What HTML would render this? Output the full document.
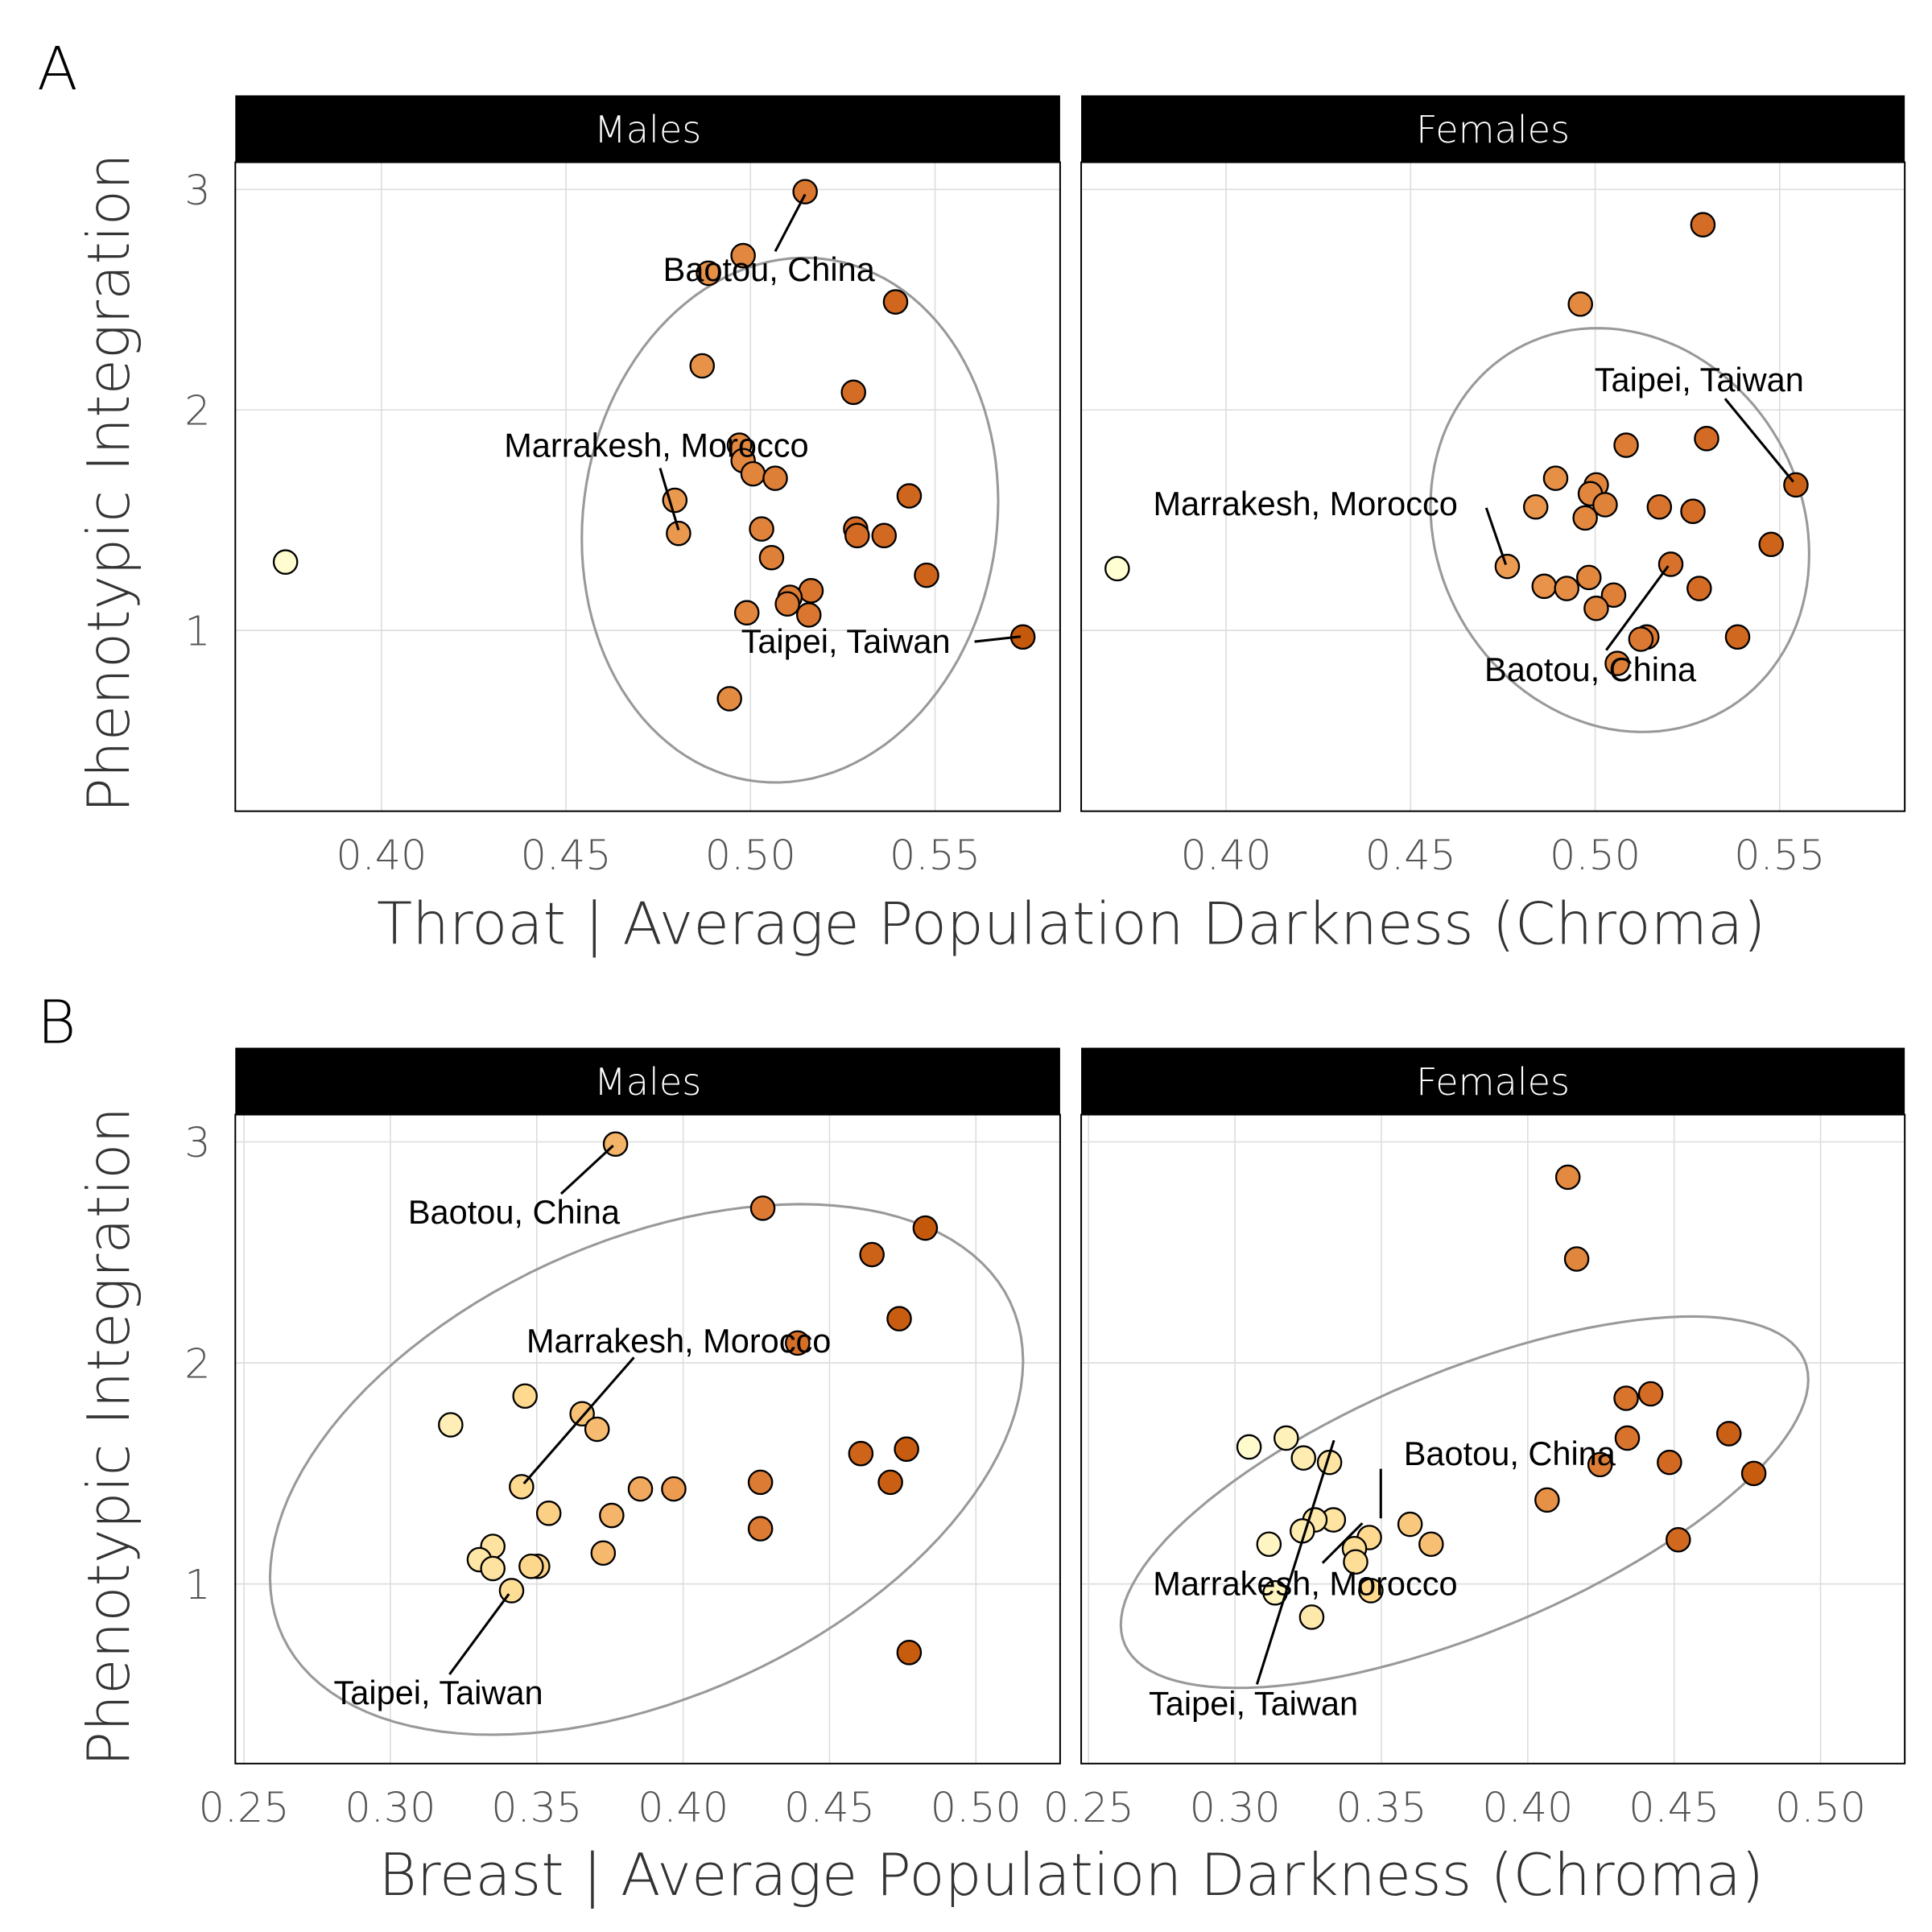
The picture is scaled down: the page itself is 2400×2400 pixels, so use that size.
<!DOCTYPE html>
<html><head><meta charset="utf-8"><style>
html,body{margin:0;padding:0;background:#fff;}
svg{display:block;}
.tick{font-family:"DejaVu Sans","Liberation Sans",sans-serif;font-size:33px;fill:#555;font-weight:200;}
.title{font-family:"DejaVu Sans","Liberation Sans",sans-serif;font-size:47px;fill:#333;font-weight:200;}
.strip{font-family:"DejaVu Sans","Liberation Sans",sans-serif;font-size:30px;fill:#fff;font-weight:200;}
.lab{font-family:"Liberation Sans",sans-serif;font-size:27px;fill:#000;}
.tag{font-family:"DejaVu Sans","Liberation Sans",sans-serif;font-size:48px;fill:#000;font-weight:200;}
</style></head><body>
<svg id="chart" width="2400" height="2400" viewBox="0 0 1560 1560" xmlns="http://www.w3.org/2000/svg">
<text class="tag" x="30" y="72">A</text>
<text class="tag" x="30" y="842">B</text>
<text class="title" transform="translate(104,390) rotate(-90)" text-anchor="middle">Phenotypic Integration</text>
<text class="title" transform="translate(104,1160) rotate(-90)" text-anchor="middle">Phenotypic Integration</text>
<text class="title" x="865" y="762" text-anchor="middle">Throat | Average Population Darkness (Chroma)</text>
<text class="title" x="865" y="1530" text-anchor="middle">Breast | Average Population Darkness (Chroma)</text>
</svg>
<script>
// ---- data ----
const tmX=[0.374,0.5148,0.498,0.4886,0.5393,0.4869,0.5279,0.497,0.498,0.5007,0.5067,0.4795,0.543,0.4805,0.503,0.5285,0.5289,0.5362,0.5057,0.5477,0.5164,0.5107,0.499,0.510,0.5158,0.5738,0.4943];
const tmY=[1.31,2.99,2.70,2.62,2.49,2.20,2.08,1.84,1.77,1.71,1.69,1.59,1.61,1.44,1.46,1.46,1.43,1.43,1.33,1.25,1.18,1.15,1.08,1.12,1.07,0.97,0.69];
const tfX=[0.3705,0.5292,0.496,0.5544,0.5084,0.5302,0.4893,0.5003,0.4839,0.4987,0.5027,0.5174,0.5265,0.4973,0.5477,0.4762,0.5205,0.4983,0.4862,0.4923,0.505,0.5282,0.5003,0.5386,0.514,0.5124,0.506];
const tfY=[1.28,2.84,2.48,1.66,1.84,1.87,1.69,1.66,1.56,1.62,1.57,1.56,1.54,1.51,1.39,1.29,1.30,1.24,1.20,1.19,1.16,1.19,1.10,0.97,0.97,0.96,0.85];
const bmX=[0.3769,0.4272,0.4827,0.4645,0.4738,0.4391,0.3206,0.346,0.3655,0.3706,0.3448,0.4607,0.4763,0.4264,0.4708,0.3854,0.3968,0.3541,0.3756,0.4264,0.335,0.3727,0.3304,0.335,0.3503,0.3481,0.3414,0.4772];
const bmY=[2.99,2.70,2.61,2.49,2.20,2.09,1.72,1.85,1.77,1.70,1.44,1.59,1.61,1.46,1.46,1.43,1.43,1.32,1.31,1.25,1.17,1.14,1.11,1.07,1.08,1.08,0.97,0.69];
const bfX=[0.4137,0.4167,0.4420,0.4336,0.4687,0.3048,0.3175,0.434,0.3234,0.3323,0.4247,0.4484,0.4772,0.4066,0.3336,0.3273,0.3598,0.323,0.3459,0.4514,0.367,0.3116,0.3408,0.3412,0.3464,0.3137,0.3262];
const bfY=[2.84,2.47,1.86,1.84,1.68,1.62,1.66,1.66,1.57,1.55,1.54,1.55,1.50,1.38,1.29,1.29,1.27,1.24,1.21,1.20,1.18,1.18,1.16,1.10,0.97,0.96,0.85];
// ellipse params: [cx, cy, a(x half), b(y half), phase]
const ellTM=[0.5107,1.50,0.0564,1.19,1.50];
const ellTF=[0.5067,1.455,0.0513,0.916,1.69];
const ellBM=[0.3875,1.518,0.1286,1.20,1.15];
const ellBF=[0.3784,1.37,0.1174,0.840,0.85];
const topXTicks=["0.40","0.45","0.50","0.55"];
const botXTicks=["0.25","0.30","0.35","0.40","0.45","0.50"];
const yTicks=[1,2,3];
const stripLabels=["Males","Females"];
// labels: [text, textX, textY, lineX1,lineY1, pointX, pointY] (data units)
const labTM=[["Baotou, China",0.5050,2.635,0.5067,2.719,0.5148,2.978],["Marrakesh, Morocco",0.4745,1.837,0.4755,1.736,0.4805,1.455],["Taipei, Taiwan",0.5258,0.949,0.5607,0.949,0.5732,0.972]];
const labTF=[["Taipei, Taiwan",0.5282,2.135,0.5352,2.051,0.5537,1.674],["Marrakesh, Morocco",0.4215,1.573,0.4705,1.556,0.4758,1.298],["Baotou, China",0.4987,0.820,0.5030,0.910,0.5198,1.292]];
const labBM=[["Baotou, China",0.3422,2.681,0.3583,2.765,0.3761,2.983],["Marrakesh, Morocco",0.3985,2.098,0.3832,2.025,0.3456,1.454],["Taipei, Taiwan",0.3164,0.507,0.3202,0.591,0.3405,0.955]];
const labBF=[["Baotou, China",0.3938,1.588,0.3498,1.521,0.3498,1.297],["Marrakesh, Morocco",0.3240,1.0,0.3299,1.095,0.3435,1.275],["Taipei, Taiwan",0.3063,0.457,0.3075,0.546,0.3338,1.650]];

const NS="http://www.w3.org/2000/svg";
const svg=document.getElementById('chart');
function mk(tag,attrs,parent){const e=document.createElementNS(NS,tag);for(const k in attrs)e.setAttribute(k,attrs[k]);(parent||svg).appendChild(e);return e;}
const stops=[[255,255,212],[254,217,142],[238,160,85],[214,110,40],[196,88,10]];
function col(t){t=Math.max(0,Math.min(1,t));const s=t*(stops.length-1);const i=Math.min(stops.length-2,Math.floor(s));const f=s-i;const c=stops[i].map((v,k)=>Math.round(v+(stops[i+1][k]-v)*f));return `rgb(${c[0]},${c[1]},${c[2]})`;}

function panel(cfg){
  const {x0,x1,y0,y1,sx,sy,xTicks,strip,X,Y,ell,labs,cmin,cmax,name}=cfg;
  const g=mk('g',{});
  
  
  xTicks.forEach(t=>{const px=sx(parseFloat(t));
    const l=mk('line',{x1:px,x2:px,y1:y0,y2:y1,stroke:'#dcdcdc','stroke-width':1},g);
    
    if(cfg.showXT){const tx=mk('text',{x:px,y:y1+47,'text-anchor':'middle',class:'tick'},g);tx.textContent=t;
      }
  });
  yTicks.forEach(t=>{const py=sy(t);
    const l=mk('line',{x1:x0,x2:x1,y1:py,y2:py,stroke:'#dcdcdc','stroke-width':1},g);
    
    if(cfg.showYT){const tx=mk('text',{x:x0-20,y:py+12,'text-anchor':'end',class:'tick'},g);tx.textContent=t;
      }
  });
  const fr=mk('rect',{x:x0,y:y0,width:x1-x0,height:y1-y0,fill:'none',stroke:'#000','stroke-width':1.3},g);
  
  const sr=mk('rect',{x:x0,y:y0-54,width:x1-x0,height:54,fill:'#000'},g);
  
  const st=mk('text',{x:(x0+x1)/2,y:y0-16,'text-anchor':'middle',class:'strip'},g);st.textContent=strip;
  
  let d='';for(let i=0;i<=120;i++){const t=i/120*2*Math.PI;const ex=ell[0]+ell[2]*Math.cos(t);const ey=ell[1]+ell[3]*Math.cos(t+ell[4]);d+=(i?'L':'M')+sx(ex).toFixed(1)+','+sy(ey).toFixed(1);}
  const ep=mk('path',{d:d+'Z',fill:'none',stroke:'#999','stroke-width':2},g);
  
  X.forEach((v,i)=>{const c=mk('circle',{cx:sx(v),cy:sy(Y[i]),r:9.5,fill:col((v-cmin)/(cmax-cmin)),stroke:'#000','stroke-width':1.5},g);
    });
  labs.forEach(L=>{
    const ln=mk('line',{x1:sx(L[3]),y1:sy(L[4]),x2:sx(L[5]),y2:sy(L[6]),stroke:'#000','stroke-width':2},g);
    
    const tx=mk('text',{x:sx(L[1]),y:sy(L[2])+9,'text-anchor':'middle',class:'lab'},g);tx.textContent=L[0];
    
  });
}
const tsx=off=>v=>308+off+(v-0.40)*2980;
const tsy=v=>509-(v-1)*178;
const bsx=off=>v=>197+off+(v-0.25)*2364;
const bsy=v=>1279-(v-1)*178.5;
panel({name:'panel-throat-males',x0:190,x1:856,y0:131,y1:655,sx:tsx(0),sy:tsy,xTicks:topXTicks,strip:stripLabels[0],X:tmX,Y:tmY,ell:ellTM,labs:labTM,cmin:0.37,cmax:0.575,showXT:true,showYT:true});
panel({name:'panel-throat-females',x0:873,x1:1538,y0:131,y1:655,sx:tsx(682),sy:tsy,xTicks:topXTicks,strip:stripLabels[1],X:tfX,Y:tfY,ell:ellTF,labs:labTF,cmin:0.37,cmax:0.575,showXT:true,showYT:false});
panel({name:'panel-breast-males',x0:190,x1:856,y0:900,y1:1424,sx:bsx(0),sy:bsy,xTicks:botXTicks,strip:stripLabels[0],X:bmX,Y:bmY,ell:ellBM,labs:labBM,cmin:0.30,cmax:0.485,showXT:true,showYT:true});
panel({name:'panel-breast-females',x0:873,x1:1538,y0:900,y1:1424,sx:bsx(682),sy:bsy,xTicks:botXTicks,strip:stripLabels[1],X:bfX,Y:bfY,ell:ellBF,labs:labBF,cmin:0.30,cmax:0.485,showXT:true,showYT:false});
</script>
</body></html>
